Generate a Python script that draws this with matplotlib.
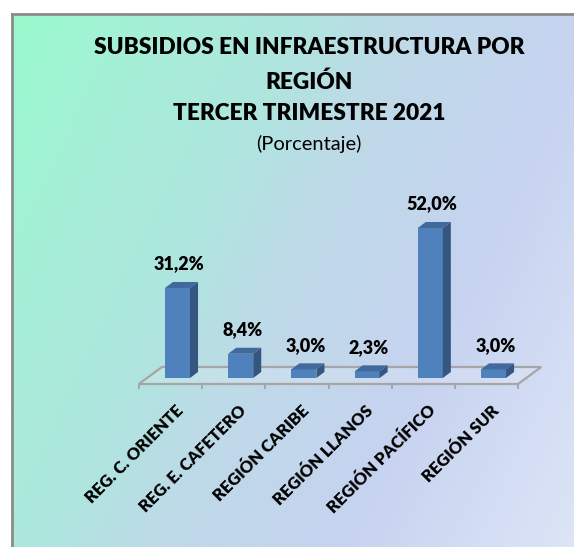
import numpy as np
import matplotlib
matplotlib.use("Agg")
from matplotlib import pyplot as plt
from matplotlib.patches import Polygon
from matplotlib.colors import LinearSegmentedColormap

regions = ["REG. C. ORIENTE", "REG. E. CAFETERO", "REGIÓN CARIBE",
           "REGIÓN LLANOS", "REGIÓN PACÍFICO", "REGIÓN SUR"]
shares = [31.2, 8.4, 3.0, 2.3, 52.0, 3.0]
labels = ["31,2%", "8,4%", "3,0%", "2,3%", "52,0%", "3,0%"]

title_lines = ["SUBSIDIOS EN INFRAESTRUCTURA POR", "REGIÓN", "TERCER TRIMESTRE 2021"]
subtitle = "(Porcentaje)"

W, H = 574, 547
plt.rcParams['font.family'] = ['Lato', 'DejaVu Sans']

fig = plt.figure(figsize=(W / 100, H / 100), dpi=100)
fig.patch.set_facecolor("white")

# background gradient (mint -> lavender), slightly diagonal
bg = fig.add_axes([11 / W, -0.01, 1 - 11 / W + 0.02, (H - 13) / H + 0.01])
bg.set_axis_off()
nx, ny = 300, 300
xx, yy = np.meshgrid(np.linspace(0, 563, nx), np.linspace(0, 534, ny))
ang = np.deg2rad(25)
t = xx * np.cos(ang) + yy * np.sin(ang)
t = t / t.max()
stops = [(0.0, (152, 250, 205)), (0.16, (165, 240, 215)), (0.34, (174, 230, 222)),
         (0.48, (190, 218, 232)), (0.71, (199, 211, 240)), (1.0, (222, 230, 247))]
cmap = LinearSegmentedColormap.from_list(
    "bg", [(p, tuple(c / 255 for c in col)) for p, col in stops])
bg.imshow(t, cmap=cmap, aspect="auto", extent=(0, 1, 0, 1), origin="upper",
          interpolation="bilinear")
bg.set_xlim(0, 1)
bg.set_ylim(0, 1)
bg.plot([0.002, 0.002], [0, 0.998], color="#8c8c8c", lw=2, clip_on=False)
bg.plot([0.002, 1], [0.998, 0.998], color="#8c8c8c", lw=2, clip_on=False)

# titles
for txt, ypx in zip(title_lines, [48, 82, 113]):
    fig.text(309 / W, 1 - ypx / H, txt, ha="center", va="center",
             fontsize=16.3, fontweight="heavy", color="black")
fig.text(309 / W, 1 - 144 / H, subtitle, ha="center", va="center",
         fontsize=14.5, color="black")

# main axes
ax = fig.add_axes([100 / W, 147 / H, 460 / W, 230 / H])
ax.set_axis_off()
ax.patch.set_alpha(0)
ax.set_xlim(-1.226, 6.052)
ax.set_ylim(-7.63, 72.1)

x = np.arange(len(regions))
bw = 0.396       # bar front face width
ddx, ddy = 0.127, 2.08   # bar depth
shift = 0.11     # bar sits at mid-depth of floor

# floor
fl_x0, fl_x1 = -0.5 - shift, len(regions) - 0.5 - shift
front_y, back_y = -2.08, 3.81
back_dx = 0.364
floor = Polygon([(fl_x0, front_y), (fl_x1, front_y),
                 (fl_x1 + back_dx, back_y), (fl_x0 + back_dx, back_y)],
                closed=True, facecolor=(1, 1, 1, 0.15), edgecolor="#a6a6a6",
                lw=1.6, zorder=1)
ax.add_patch(floor)
ax.vlines(np.arange(len(regions) + 1) - 0.5 - shift, front_y - 1.8, front_y,
          color="#a6a6a6", lw=1.4, zorder=1)

# bars
ax.bar(x, shares, width=bw, color="#4f81bd", edgecolor="none", zorder=3)
for xi, v in zip(x, shares):
    r = xi + bw / 2
    l = xi - bw / 2
    side = Polygon([(r, 0), (r + ddx, ddy), (r + ddx, v + ddy), (r, v)],
                   closed=True, facecolor="#34567f", edgecolor="none", zorder=3)
    top = Polygon([(l, v), (r, v), (r + ddx, v + ddy), (l + ddx, v + ddy)],
                  closed=True, facecolor="#41699c", edgecolor="none", zorder=3)
    ax.add_patch(side)
    ax.add_patch(top)

# data labels
for xi, v, lab in zip(x, shares, labels):
    ax.text(xi + 0.03, v + 8.3, lab, ha="center", va="center",
            fontsize=13, fontweight="heavy", color="black", zorder=4)

# category labels
for xi, name in zip(x, regions):
    ax.text(xi - 0.04, -8.4, name, ha="right", va="top", rotation=45,
            rotation_mode="anchor", fontsize=12, fontweight="heavy",
            color="black", clip_on=False)

fig.savefig("out.png", dpi=100)
